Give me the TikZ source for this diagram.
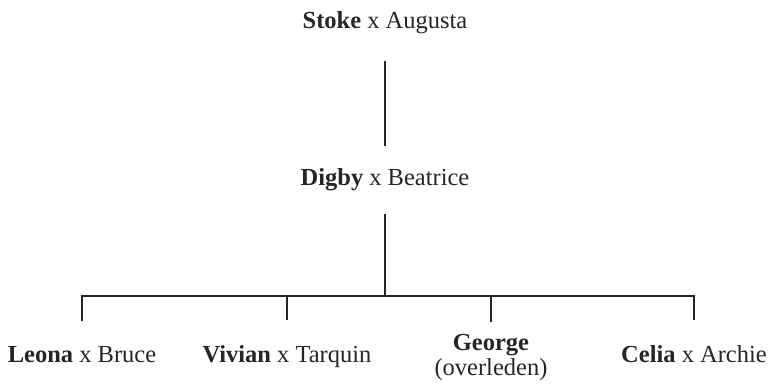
\documentclass[tikz,border=0pt]{standalone}
\usepackage{fontspec}
\setmainfont{Liberation Serif}
\usepackage{tikz}
\tikzstyle{person} = [inner sep=0pt, anchor=base, align=center, font=\fontsize{24.5}{25}\selectfont, text=black!85]
\tikzset{tree/.style = {
    line width=2.2pt,
    draw=black!85,
  }
}

\begin{document}
\begin{tikzpicture}[x=1pt, y=-1pt]
            \useasboundingbox (0,0) rectangle (774,389);
            % vertices
            \node[person] (stoke) at (385 , 28) {\textbf{Stoke} x Augusta};
            \node[person] (digby) at (385 , 185) {\textbf{Digby} x Beatrice};
            \coordinate (bus) at (385 , 296);
            \node[person] (leona) at (82 , 362) {\textbf{Leona} x Bruce};
            \node[person] (vivian) at (287 , 362) {\textbf{Vivian} x Tarquin};
            \node[person, anchor=north] (george) at (491 , 334) {\textbf{George}\\(overleden)};
            \node[person] (celia) at (694 , 362) {\textbf{Celia} x Archie};

            %edges
            \draw[tree, shorten <=28pt, shorten >=22pt] (stoke.south) to (digby.north);
            \draw[tree, shorten <=23pt] (digby.south) to (bus);
            \draw[tree, shorten <=25pt, shorten >=25pt] (leona.north) |- (bus) -| (celia.north);
            \draw[tree, shorten <=25pt] (vivian.north) to (vivian.north |- bus);
            \draw[tree, shorten <=12pt] (george.north) to (george.north |- bus);
          \end{tikzpicture}
\end{document}
